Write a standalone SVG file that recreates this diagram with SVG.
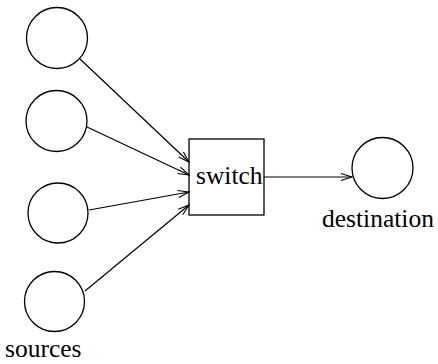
<svg xmlns="http://www.w3.org/2000/svg" width="438" height="364" viewBox="0 0 438 364">
<style>
.node{fill:none;stroke:#000;stroke-width:1.3}
.conn line{stroke:#000;stroke-width:1.2;marker-end:url(#arr)}
text{font-family:"Liberation Serif","Times New Roman",serif;font-size:25.5px;fill:#000}
</style>
<defs>
<marker id="arr" markerUnits="userSpaceOnUse" markerWidth="14" markerHeight="10" viewBox="-12 -5 14 10" refX="0" refY="0" orient="auto">
<polyline points="-11,-3.5 0,0 -11,3.5" fill="none" stroke="#000" stroke-width="1.1"/>
</marker>
</defs>
<rect width="438" height="364" fill="#fff"/>
<g id="source1"><circle class="node" cx="57" cy="38" r="30.5"/></g>
<g id="source2"><circle class="node" cx="56.5" cy="121" r="30.5"/></g>
<g id="source3"><circle class="node" cx="58" cy="213" r="30"/></g>
<g id="source4"><circle class="node" cx="54.5" cy="301.5" r="30"/></g>
<g id="sources-label"><text x="5" y="357">sources</text></g>
<g id="switch"><rect class="node" x="189" y="139" width="75" height="76"/><text x="196" y="184">switch</text></g>
<g id="destination"><circle class="node" cx="382.5" cy="168" r="30.5"/><text x="322" y="227">destination</text></g>
<g id="connectors" class="conn">
<line x1="80" y1="59" x2="189" y2="162"/>
<line x1="87" y1="127" x2="189" y2="175"/>
<line x1="89" y1="210" x2="189" y2="192"/>
<line x1="85" y1="291" x2="189" y2="205"/>
<line x1="264" y1="177" x2="352" y2="177"/>
</g>
</svg>
